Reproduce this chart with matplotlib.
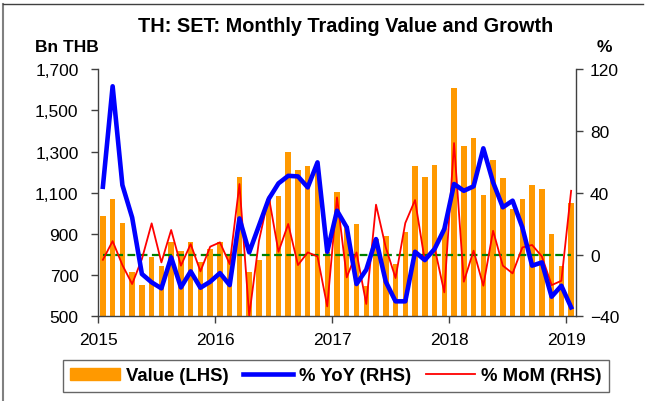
import numpy as np
import matplotlib.pyplot as plt
from matplotlib.lines import Line2D
from matplotlib.ticker import FuncFormatter

plt.rcParams['font.family'] = ['Liberation Sans', 'DejaVu Sans']

# Monthly data, Jan 2015 .. Jan 2019
value = [985, 1069, 953, 713, 652, 786, 744, 862, 815, 859, 762, 825,
         860, 805, 1175, 713, 775, 1069, 1085, 1299, 1210, 1228, 1240, 810,
         1105, 937, 948, 647, 875, 891, 754, 909, 1231, 1178, 1234, 930,
         1610, 1325, 1364, 1089, 1260, 1170, 1021, 1069, 1136, 1118, 898, 744,
         1051]
yoy = [43.9, 109, 45, 24, -12.6, -18, -21.9, -1.8, -21.3, -10.9, -21.5, -17.6,
       -12, -19.8, 23.4, 1.4, 18.7, 36, 46.1, 51, 50.6, 43.5, 59.7, 1.8,
       28.4, 17.6, -19.1, -9.8, 10, -17.6, -30.3, -30.3, 1.8, -3.6, 3.6, 16.5,
       45.7, 41.3, 44.2, 68.8, 46.8, 30.6, 34.9, 17.6, -7.2, -5.1, -27.3, -20.2,
       -34.2]
mom = [-3.4, 8.7, -6.8, -19.1, -2.9, 20.2, -5.1, 15.9, -7.2, 6.8, -10.9, 5.1,
       7.9, -6.2, 45.7, -39.6, 8.9, 37.7, 1.8, 19.8, -6.8, 1.4, -1.2, -33.6,
       37, -14.8, 1.4, -32, 32.3, 4.6, -15.2, 20.4, 35.3, -4, 4.6, -24.5,
       72.2, -17.6, 2.5, -20.2, 15.4, -7.2, -12.2, 4.6, 6.2, -1.2, -19.8, -17,
       41.3]
zero = [0] * len(value)
years = ['2015', '2016', '2017', '2018', '2019']

x = np.arange(len(value)) + 0.5

fig = plt.figure(figsize=(6.46, 4.02), dpi=100)
ax1 = fig.add_axes([98/646, 1-317.3/402, 478/646, 247/402])
ax2 = ax1.twinx()

ax1.bar(x, np.array(value) - 500, bottom=500, width=0.56, color='#FF9900', zorder=1)
ax2.plot(x, zero, color='#008000', linestyle=(0, (3.5, 2)), linewidth=1.6, zorder=2)
ax2.plot(x, yoy, color='#0000FF', linewidth=3.3, zorder=4)
ax2.plot(x, mom, color='#FF0000', linewidth=1.3, zorder=3)

ax1.set_xlim(0, len(value))
ax1.set_ylim(500, 1700)
ax2.set_ylim(-40, 120)
ax1.set_yticks(range(500, 1701, 200))
ax2.set_yticks(range(-40, 121, 40))
ax1.yaxis.set_major_formatter(FuncFormatter(lambda v, p: f'{int(v):,}'))
ax1.set_xticks(np.arange(len(years)) * 12)
ax1.set_xticklabels(years)

for ax in (ax1, ax2):
    ax.spines['top'].set_visible(False)
    for s in ax.spines.values():
        s.set_color('#404040')
        s.set_linewidth(1.0)
    ax.tick_params(length=5, width=1, color='#404040', labelsize=12.5, pad=5)
ax1.spines['right'].set_visible(False)
ax2.spines['left'].set_visible(False)
ax2.spines['bottom'].set_visible(False)
ax1.tick_params(axis='y', pad=9)
ax1.tick_params(axis='x', pad=6)
ax1.set_zorder(ax2.get_zorder() - 1)
ax2.patch.set_visible(False)

fig.text(346/646, 1-27/402, 'TH: SET: Monthly Trading Value and Growth',
         ha='center', va='center', fontsize=14.3, fontweight='bold')
fig.text(35/646, 1-48/402, 'Bn THB', ha='left', va='center', fontsize=12.5, fontweight='bold')
fig.text(612/646, 1-48/402, '%', ha='right', va='center', fontsize=12.5, fontweight='bold')

handles = [plt.Rectangle((0, 0), 1, 1, color='#FF9900'),
           Line2D([], [], color='#0000FF', linewidth=3.3),
           Line2D([], [], color='#FF0000', linewidth=1.3)]
leg = fig.legend(handles, ['Value (LHS)', '% YoY (RHS)', '% MoM (RHS)'],
                 loc='center', bbox_to_anchor=(336/646, 1-377/402), ncol=3,
                 frameon=True, fancybox=False, edgecolor='#404040',
                 prop={'weight': 'bold', 'size': 13.3}, handlelength=2.7,
                 handleheight=0.6, columnspacing=0.8, handletextpad=0.3,
                 borderpad=0.4, borderaxespad=0)
leg.get_frame().set_linewidth(1.0)

# outer frame (left and top edges)
fig.add_artist(Line2D([3/646, 3/646], [0, 1-5/402], color='#808080', linewidth=1.5))
fig.add_artist(Line2D([3/646, 643/646], [1-5/402, 1-5/402], color='#404040', linewidth=1))

fig.savefig('out.png', dpi=100)
